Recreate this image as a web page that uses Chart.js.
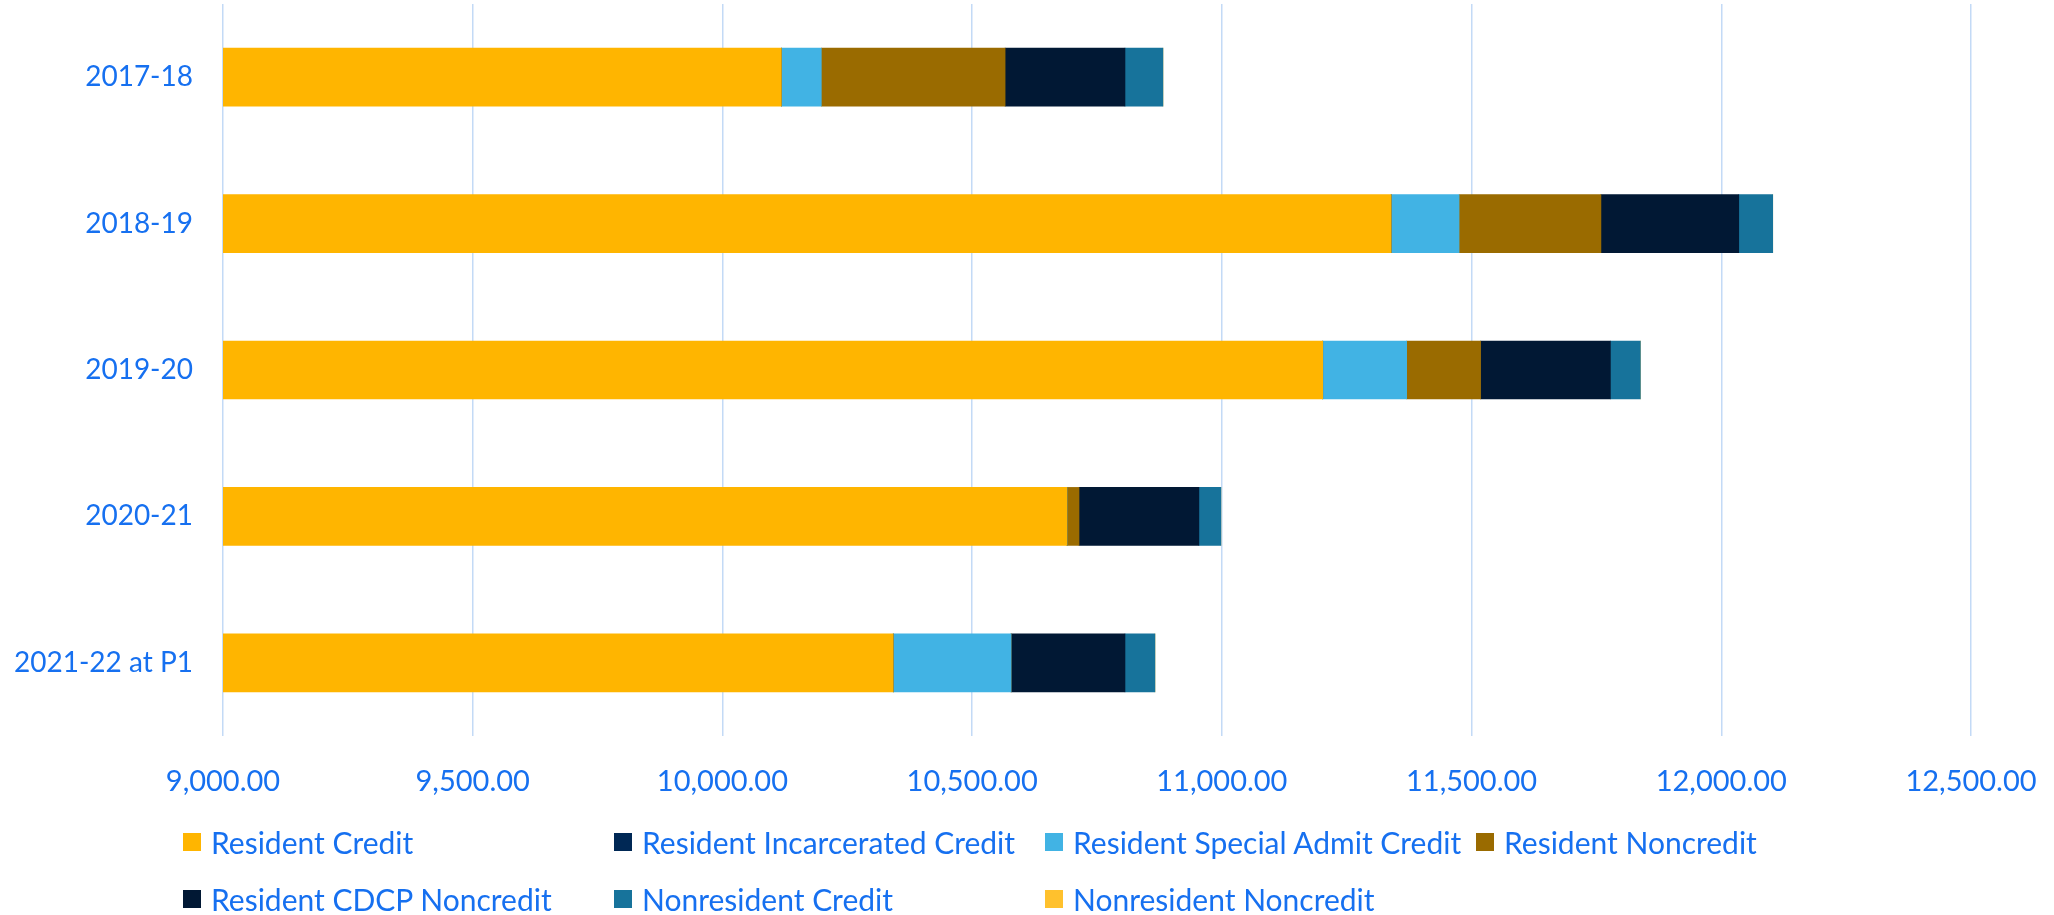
<!DOCTYPE html>
<html>
<head>
<meta charset="utf-8">
<title>Enrollment by category</title>
<script src="https://cdn.jsdelivr.net/npm/chart.js@4.4.1/dist/chart.umd.min.js"></script>
<style>
  html, body { margin: 0; padding: 0; background: #fff; overflow: hidden; }
  #wrap { position: relative; width: 2054px; height: 915px; }
  #grafico { position: absolute; left: 0; top: 0; }
  #legenda {
    position: absolute;
    left: 183px;
    top: 813px;
    display: grid;
    grid-template-columns: repeat(4, 431px);
    grid-auto-rows: 57px;
    font-family: Lato, sans-serif;
    font-size: 30px;
    color: #1670f0;
  }
  .item { display: flex; align-items: center; white-space: nowrap; }
  .caixa { width: 18px; height: 18px; margin-right: 10px; flex: none; }
</style>
</head>
<body>
<div id="wrap">
  <canvas id="grafico" width="2054" height="915"></canvas>
  <div id="legenda"></div>
</div>

<script>
// Categorias (anos) e valores de cada série
const anos = ['2017-18', '2018-19', '2019-20', '2020-21', '2021-22 at P1'];

const residentCredit = [10118, 11339, 11202, 10690, 10342];
const residentIncarcerated = [0, 0, 0, 0, 0];
const residentSpecialAdmit = [80, 136, 168, 0, 236];
const residentNoncredit = [368, 284, 148, 24, 0];
const residentCdcp = [240, 276, 260, 240, 228];
const nonresidentCredit = [76, 68, 60, 44, 60];
const nonresidentNoncredit = [0, 0, 0, 0, 0];

// Marcas do eixo X
const ticksX = [9000, 9500, 10000, 10500, 11000, 11500, 12000, 12500];

const corTexto = '#1670f0';

const series = [
  { label: 'Resident Credit', data: residentCredit, backgroundColor: '#ffb500' },
  { label: 'Resident Incarcerated Credit', data: residentIncarcerated, backgroundColor: '#002855' },
  { label: 'Resident Special Admit Credit', data: residentSpecialAdmit, backgroundColor: '#41b3e4' },
  { label: 'Resident Noncredit', data: residentNoncredit, backgroundColor: '#9a6b00' },
  { label: 'Resident CDCP Noncredit', data: residentCdcp, backgroundColor: '#011834' },
  { label: 'Nonresident Credit', data: nonresidentCredit, backgroundColor: '#17739b' },
  { label: 'Nonresident Noncredit', data: nonresidentNoncredit, backgroundColor: '#ffc12d' },
];

const ctx = document.getElementById('grafico').getContext('2d');

const grafico = new Chart(ctx, {
  type: 'bar',
  data: {
    labels: anos,
    datasets: series.map((s) => ({ ...s, borderWidth: 0, barThickness: 58, clip: 0 })),
  },
  options: {
    indexAxis: 'y',
    responsive: false,
    animation: false,
    layout: { padding: { top: 4, right: 83, bottom: 0, left: 0 } },
    plugins: {
      legend: { display: false },
      tooltip: { enabled: false },
    },
    scales: {
      x: {
        stacked: true,
        min: 9000,
        max: 12500,
        afterBuildTicks: (escala) => {
          escala.ticks = ticksX.map((v) => ({ value: v }));
        },
        // fixa a altura do eixo e tira o espaço extra das pontas
        afterFit: (escala) => {
          escala.height = 179;
          escala.paddingLeft = 0;
          escala.paddingRight = 0;
        },
        grid: { color: '#c3daf6', lineWidth: 1.5, drawTicks: false },
        border: { display: false },
        ticks: {
          color: corTexto,
          font: { family: 'Lato, sans-serif', size: 29 },
          padding: 28,
          maxRotation: 0,
          callback: (v) => Number(v).toLocaleString('en-US', { minimumFractionDigits: 2, maximumFractionDigits: 2 }),
        },
      },
      y: {
        stacked: true,
        afterFit: (escala) => {
          escala.width = 223;
          escala.paddingTop = 0;
          escala.paddingBottom = 0;
        },
        grid: { display: false, drawTicks: false },
        border: { display: false },
        ticks: { color: corTexto, font: { family: 'Lato, sans-serif', size: 28 }, padding: 30 },
      },
    },
  },
});

// Monta a legenda em grade (4 colunas) a partir das séries
const legenda = document.getElementById('legenda');
grafico.data.datasets.forEach((ds) => {
  const item = document.createElement('div');
  item.className = 'item';
  const caixa = document.createElement('span');
  caixa.className = 'caixa';
  caixa.style.background = ds.backgroundColor;
  const texto = document.createElement('span');
  texto.textContent = ds.label;
  item.appendChild(caixa);
  item.appendChild(texto);
  legenda.appendChild(item);
});
</script>
</body>
</html>
